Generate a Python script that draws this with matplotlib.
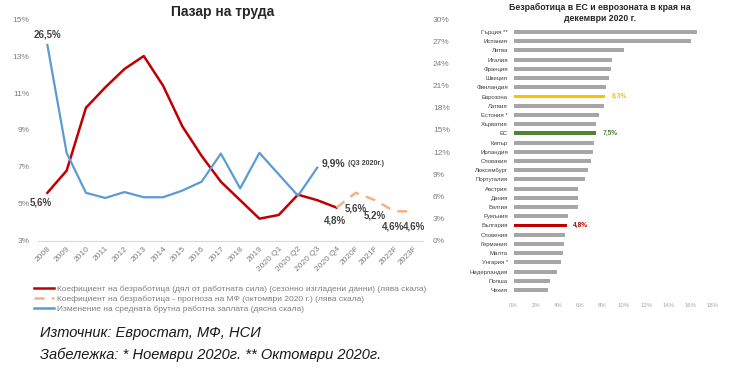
import matplotlib
matplotlib.use('Agg')
import matplotlib.pyplot as plt
from matplotlib.lines import Line2D

plt.rcParams['font.family'] = ['Liberation Sans', 'DejaVu Sans']

# left chart data
periods = ['2008', '2009', '2010', '2011', '2012', '2013', '2014', '2015', '2016',
           '2017', '2018', '2019', '2020 Q1', '2020 Q2', '2020 Q3', '2020 Q4',
           '2020F', '2021F', '2022F', '2023F']
unemployment = [5.6, 6.8, 10.2, 11.3, 12.3, 13.0, 11.4, 9.2, 7.6, 6.2, 5.2, 4.2,
                4.4, 5.5, 5.2, 4.8]
forecast = [4.8, 5.6, 5.2, 4.6, 4.6]          # from 2020 Q4 to 2023F
wages = [26.5, 11.9, 6.5, 5.8, 6.6, 5.9, 5.9, 6.8, 8.0, 11.8, 7.1, 11.9, 9.0,
         6.1, 9.9]

# right chart data
countries = ['Гърция **', 'Испания', 'Литва', 'Италия', 'Франция', 'Швеция',
             'Финландия', 'Еврозона', 'Латвия', 'Естония *', 'Хърватия', 'ЕС',
             'Кипър', 'Ирландия', 'Словакия', 'Люксембург', 'Португалия',
             'Австрия', 'Дания', 'Белгия', 'Румъния', 'България', 'Словения',
             'Германия', 'Малта', 'Унгария *', 'Нидерландия', 'Полша', 'Чехия']
rates = [16.6, 16.1, 10.0, 8.9, 8.8, 8.6, 8.4, 8.3, 8.2, 7.7, 7.5, 7.5, 7.3, 7.2,
         7.0, 6.7, 6.5, 5.8, 5.8, 5.8, 4.9, 4.8, 4.7, 4.6, 4.5, 4.3, 3.9, 3.3, 3.1]

RED = '#c00000'
BLUE = '#5b9bd5'
ORANGE = '#f4b183'
GRAY_TXT = '#7f7f7f'
DARK = '#404040'

fig = plt.figure(figsize=(7.4, 3.74), dpi=100)

# ---- left chart ----
ax = fig.add_axes([0.051, 0.356, 0.521, 0.593])
ax2 = ax.twinx()

x_all = list(range(len(periods)))
x_unemp = x_all[:len(unemployment)]
x_fc = x_all[len(unemployment) - 1:]
x_wage = x_all[:len(wages)]

ax.plot(x_unemp, unemployment, color=RED, lw=1.8, zorder=3)
ax.plot(x_fc, forecast, color=ORANGE, lw=1.8, dashes=(4, 3), zorder=3)
ax2.plot(x_wage, wages, color=BLUE, lw=1.6)

ax.set_xlim(-0.5, len(periods) - 0.5)
ax.set_ylim(3, 15)
ax.set_yticks(range(3, 16, 2))
ax.set_yticklabels([f'{v}%' for v in range(3, 16, 2)])
ax2.set_ylim(0, 30)
ax2.set_yticks(range(0, 31, 3))
ax2.set_yticklabels([f'{v}%' for v in range(0, 31, 3)])
ax.set_xticks(x_all)
ax.set_xticklabels(periods, rotation=45, ha='right', rotation_mode='anchor')

for a in (ax, ax2):
    for s in a.spines.values():
        s.set_visible(False)
    a.tick_params(length=0, labelsize=6, colors=GRAY_TXT)
ax.spines['bottom'].set_visible(True)
ax.spines['bottom'].set_color('#d9d9d9')
ax.tick_params(axis='y', pad=6)
ax2.tick_params(axis='y', pad=7)
ax.tick_params(axis='x', pad=3)

ax.set_title('Пазар на труда', fontsize=10, fontweight='bold', color='#262626',
             pad=2, x=0.48)

# annotations
ax2.annotate('26,5%', (0, wages[0]), xytext=(0, 4), textcoords='offset points',
             ha='center', va='bottom', fontsize=7, fontweight='bold', color=DARK)
ax.annotate('5,6%', (0, unemployment[0]), xytext=(3, -7), textcoords='offset points',
            ha='right', va='center', fontsize=7, fontweight='bold', color=DARK)
ax2.annotate('9,9%', (14, wages[14]), xytext=(3, 3), textcoords='offset points',
             ha='left', va='center', fontsize=7.5, fontweight='bold', color=DARK)
ax2.annotate('(Q3 2020г.)', (14, wages[14]), xytext=(22, 3), textcoords='offset points',
             ha='left', va='center', fontsize=5, fontweight='bold', color=DARK)
ax.annotate('4,8%', (15, unemployment[-1]), xytext=(-1, -9), textcoords='offset points',
            ha='center', va='center', fontsize=7, fontweight='bold', color=DARK)
for xi, v, dx in zip(x_fc[1:], forecast[1:], [0, 0, -1, 0]):
    ax.annotate(f'{v}%'.replace('.', ','), (xi, v), xytext=(dx, -11),
                textcoords='offset points', ha='center', va='center',
                fontsize=7, fontweight='bold', color=DARK)

handles = [
    Line2D([], [], color=RED, lw=1.8),
    Line2D([], [], color=ORANGE, lw=1.8, dashes=(4, 3)),
    Line2D([], [], color=BLUE, lw=1.8),
]
labels = [
    'Коефициент на безработица (дял от работната сила) (сезонно изгладени данни) (лява скала)',
    'Коефициент на безработица - прогноза на МФ (октомври 2020 г.) (лява скала)',
    'Изменение на средната брутна работна заплата (дясна скала)',
]
fig.legend(handles, labels, loc='upper left', bbox_to_anchor=(0.046, 1 - 285 / 374),
           frameon=False, fontsize=6, labelcolor=GRAY_TXT, handlelength=2.4,
           handletextpad=0.3, labelspacing=0.27, borderaxespad=0, borderpad=0)

fig.text(40 / 740, 1 - 333 / 374, 'Източник: Евростат, МФ, НСИ', style='italic',
         fontsize=10.5, va='center', ha='left', color='#1a1a1a')
fig.text(40 / 740, 1 - 355 / 374, 'Забележка: * Ноември 2020г. ** Октомври 2020г.',
         style='italic', fontsize=10.5, va='center', ha='left', color='#1a1a1a')

# ---- right chart ----
bx = fig.add_axes([513.5 / 740, 1 - 294.6 / 374, 199 / 740, 267.2 / 374])
highlight = {'Еврозона': '#ffc000', 'ЕС': '#548235', 'България': RED}
colors = [highlight.get(c, '#a6a6a6') for c in countries]
y = list(range(len(countries)))
bx.barh(y, rates, height=0.42, color=colors)
for yi, c, v in zip(y, countries, rates):
    if c in highlight:
        bx.text(v + 0.6, yi, f'{v}%'.replace('.', ','), va='center', ha='left',
                fontsize=4.8, fontweight='bold', color=highlight[c])
bx.set_ylim(len(countries) - 0.5, -0.5)
bx.set_xlim(0, 18)
bx.set_xticks(range(0, 19, 2))
bx.set_xticklabels([f'{v}%' for v in range(0, 19, 2)])
bx.set_yticks(y)
bx.set_yticklabels(countries)
for s in bx.spines.values():
    s.set_visible(False)
bx.tick_params(length=0, labelsize=4.3)
bx.tick_params(axis='x', colors='#a6a6a6', pad=6)
bx.tick_params(axis='y', colors='#404040', pad=4)
fig.text(600 / 740, 1 - 3 / 374, 'Безработица в ЕС и еврозоната в края на\nдекември 2020 г.',
         ha='center', va='top', fontsize=6.3, fontweight='bold', color='#262626',
         linespacing=1.3)

fig.savefig('out.png', dpi=100)
